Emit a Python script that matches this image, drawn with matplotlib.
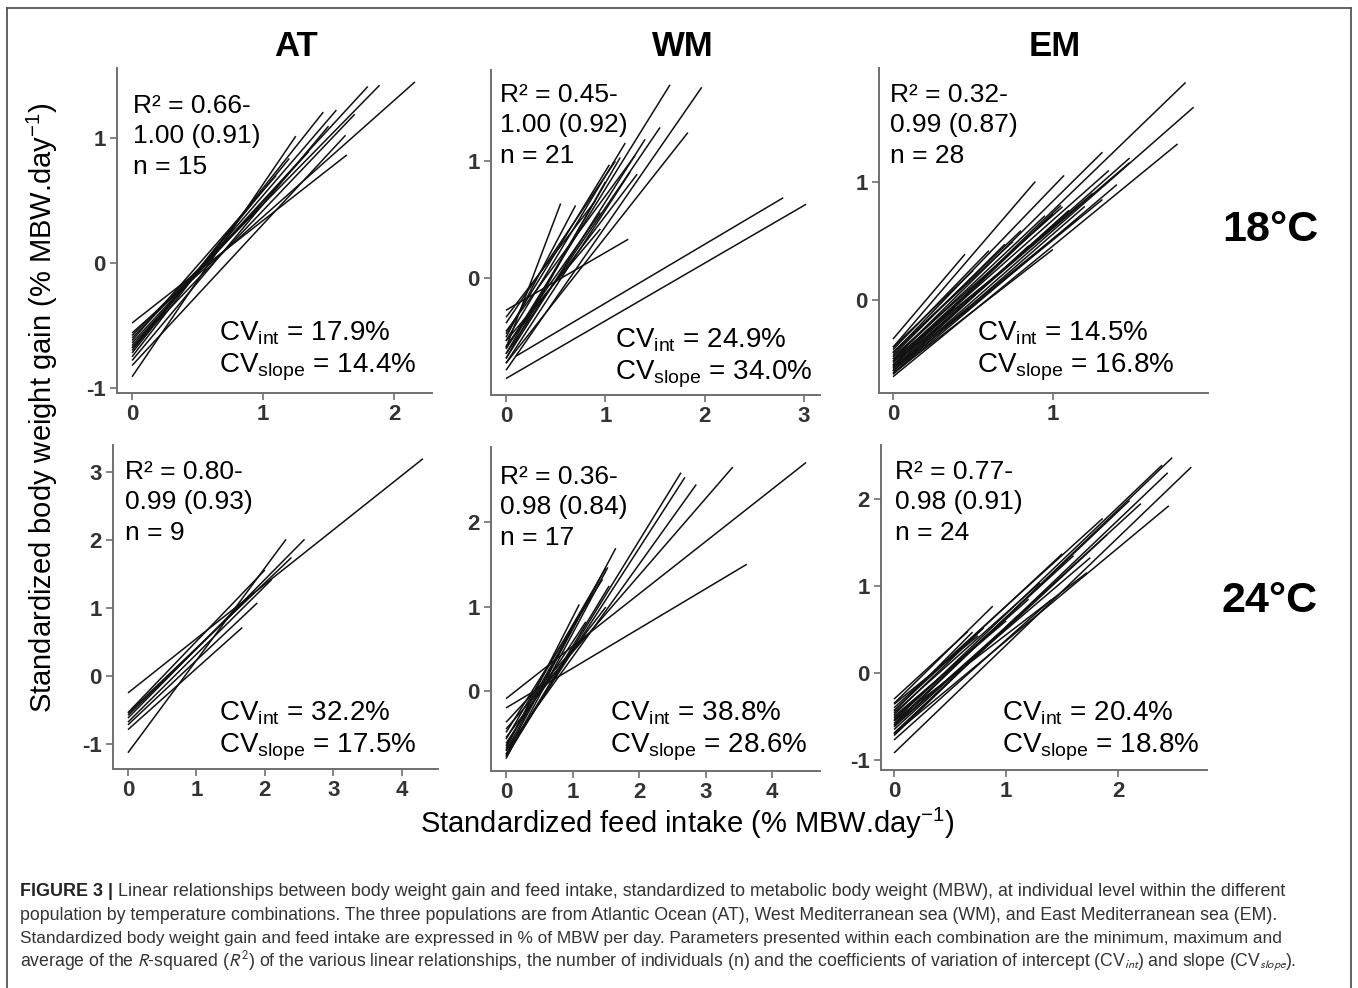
import numpy as np
import matplotlib
matplotlib.use("Agg")
import matplotlib.pyplot as plt
from matplotlib import font_manager as fm
from matplotlib.lines import Line2D

# ---------------- data (individual regression lines) ----------------
# AT 18 C
at18_int = [-0.48, -0.56, -0.60, -0.64, -0.68, -0.72, -0.91, -0.82, -0.62, -0.66, -0.70, -0.58, -0.75, -0.78, -0.68]
at18_slope = [0.82, 0.93, 1.07, 1.14, 1.22, 1.32, 1.54, 1.13, 1.20, 1.15, 1.28, 1.05, 1.35, 1.25, 1.10]
at18_xstart = [0.0] * 15
at18_xend = [1.64, 2.16, 1.89, 1.80, 1.56, 1.46, 1.25, 1.63, 1.10, 1.35, 1.20, 1.00, 0.95, 1.50, 1.70]

# WM 18 C
wm18_int = [-0.85, -0.71, -0.27, -0.60, -0.78, -0.72, -0.64, -0.68, -0.47, -0.58, -0.59,
            -0.50, -0.33, -0.38, -0.53, -0.64, -0.68, -0.72, -0.58, -0.45, -0.53]
wm18_slope = [0.49, 0.50, 0.49, 1.36, 1.22, 1.07, 1.24, 1.33, 1.38, 1.11, 2.23,
              1.60, 1.10, 1.25, 1.40, 1.45, 1.50, 1.30, 1.20, 1.15, 1.00]
wm18_xstart = [0.0, 0.10, 0.0, 0.0, 0.0, 0.0, 0.0, 0.0, 0.0, 0.0, 0.0,
               0.0, 0.0, 0.0, 0.0, 0.0, 0.0, 0.0, 0.0, 0.0, 0.0]
wm18_xend = [3.02, 2.79, 1.23, 1.65, 1.97, 1.83, 1.55, 1.40, 1.04, 1.32, 0.55,
             0.70, 0.90, 1.10, 1.20, 1.15, 1.00, 1.25, 0.95, 1.30, 0.95]

# EM 18 C
em18_int = [-0.55, -0.60, -0.65, -0.50, -0.55, -0.45, -0.40, -0.60, -0.33, -0.48, -0.52, -0.58, -0.62, -0.45,
            -0.50, -0.56, -0.53, -0.47, -0.63, -0.58, -0.42, -0.40, -0.60, -0.52, -0.57, -0.44, -0.62, -0.50]
em18_slope = [1.31, 1.19, 1.11, 1.34, 1.16, 1.41, 1.58, 1.11, 1.60, 1.20, 1.25, 1.22, 1.18, 1.30,
              1.28, 1.30, 1.15, 1.35, 1.15, 1.10, 1.40, 1.30, 1.25, 1.20, 1.20, 1.25, 1.05, 1.10]
em18_xstart = [0.0] * 28
em18_xend = [1.83, 1.88, 1.78, 1.31, 1.48, 1.07, 0.89, 1.31, 0.45, 1.06, 1.00, 1.10, 1.20, 0.80,
             0.95, 1.05, 1.25, 0.70, 1.40, 1.15, 0.60, 0.50, 0.85, 1.35, 1.48, 0.75, 1.00, 0.65]

# AT 24 C
at24_int = [-0.25, -1.13, -0.62, -0.55, -0.68, -0.72, -0.79, -0.58, -0.54]
at24_slope = [0.80, 1.36, 1.02, 0.96, 1.00, 0.95, 0.90, 0.98, 1.05]
at24_xstart = [0.0] * 9
at24_xend = [4.31, 2.31, 2.58, 2.39, 2.10, 1.89, 1.67, 1.85, 2.00]

# WM 24 C
wm24_int = [-0.09, -0.20, -0.45, -0.70, -0.75, -0.78, -0.75, -0.80, -0.55, -0.37, -0.49,
            -0.57, -0.65, -0.71, -0.77, -0.62, -0.68]
wm24_slope = [0.62, 0.47, 0.91, 1.10, 1.22, 1.28, 1.48, 1.48, 1.03, 0.85, 1.25,
              1.35, 1.40, 1.45, 1.30, 1.20, 1.55]
wm24_xstart = [0.0] * 17
wm24_xend = [4.51, 3.62, 3.41, 2.86, 2.69, 2.63, 1.65, 1.53, 1.50, 1.20, 1.45,
             1.50, 1.40, 1.30, 1.55, 1.20, 1.10]

# EM 24 C
em24_int = [-0.92, -0.60, -0.70, -0.55, -0.70, -0.40, -0.55, -0.35, -0.30, -0.43, -0.46, -0.54,
            -0.62, -0.69, -0.77, -0.50, -0.58, -0.65, -0.48, -0.36, -0.60, -0.72, -0.52, -0.44]
em24_slope = [1.24, 1.24, 1.23, 1.23, 1.07, 1.17, 0.99, 1.27, 1.18, 1.20, 1.15, 1.18,
              1.15, 1.20, 1.15, 1.10, 1.22, 1.18, 1.25, 1.05, 1.10, 1.25, 1.14, 1.30]
em24_xstart = [0.0] * 24
em24_xend = [2.65, 2.48, 2.44, 2.39, 2.45, 1.86, 1.72, 0.88, 0.66, 1.50, 1.30, 1.60,
             1.20, 1.90, 1.40, 1.00, 2.10, 2.20, 0.80, 0.75, 1.75, 1.10, 1.20, 0.70]

populations = ["AT", "WM", "EM"]
temperatures = ["18°C", "24°C"]
r2_labels = [["R² = 0.66-\n1.00 (0.91)\nn = 15", "R² = 0.45-\n1.00 (0.92)\nn = 21", "R² = 0.32-\n0.99 (0.87)\nn = 28"],
             ["R² = 0.80-\n0.99 (0.93)\nn = 9", "R² = 0.36-\n0.98 (0.84)\nn = 17", "R² = 0.77-\n0.98 (0.91)\nn = 24"]]
cv_int = [["17.9%", "24.9%", "14.5%"], ["32.2%", "38.8%", "20.4%"]]
cv_slope = [["14.4%", "34.0%", "16.8%"], ["17.5%", "28.6%", "18.8%"]]
xticks = [[[0, 1, 2], [0, 1, 2, 3], [0, 1]], [[0, 1, 2, 3, 4], [0, 1, 2, 3, 4], [0, 1, 2]]]
yticks = [[[-1, 0, 1], [0, 1], [0, 1]], [[-1, 0, 1, 2, 3], [0, 1, 2], [-1, 0, 1, 2]]]

# ---------------- style ----------------
W, H = 1358, 988
plt.rcParams["font.family"] = ["Liberation Sans", "DejaVu Sans"]
plt.rcParams["mathtext.fontset"] = "custom"
plt.rcParams["mathtext.rm"] = "Liberation Sans"
plt.rcParams["mathtext.it"] = "Liberation Sans:italic"
plt.rcParams["mathtext.bf"] = "Liberation Sans:bold"
plt.rcParams["axes.unicode_minus"] = False

names = {f.name for f in fm.fontManager.ttflist}
cap_font = "Liberation Sans Narrow" if "Liberation Sans Narrow" in names else "Liberation Sans"

fig = plt.figure(figsize=(W / 100, H / 100), dpi=100)
fig.patch.set_facecolor("white")


def fx(x):
    return x / W


def fy(y):
    return 1 - y / H


# axes rectangles in pixels: left, right, top, bottom ; limits
layout = [
    [dict(px=(117, 432, 68, 393), xlim=(-0.115, 2.29), ylim=(-1.04, 1.56)),
     dict(px=(491, 820, 70, 395), xlim=(-0.151, 3.16), ylim=(-0.99, 1.77)),
     dict(px=(879, 1208, 68, 393), xlim=(-0.0875, 1.97), ylim=(-0.788, 1.97))],
    [dict(px=(113, 438, 445, 769), xlim=(-0.219, 4.53), ylim=(-1.37, 3.40)),
     dict(px=(491, 820, 447, 771), xlim=(-0.226, 4.72), ylim=(-0.947, 2.89)),
     dict(px=(881, 1207, 445, 770), xlim=(-0.116, 2.79), ylim=(-1.115, 2.62))],
]
series = [
    [(at18_int, at18_slope, at18_xstart, at18_xend),
     (wm18_int, wm18_slope, wm18_xstart, wm18_xend),
     (em18_int, em18_slope, em18_xstart, em18_xend)],
    [(at24_int, at24_slope, at24_xstart, at24_xend),
     (wm24_int, wm24_slope, wm24_xstart, wm24_xend),
     (em24_int, em24_slope, em24_xstart, em24_xend)],
]
# top of first text line / centre of CV_int line (pixels)
r2_pos = [[(133, 94), (500, 83), (890, 83)], [(125, 460), (500, 465), (895, 460)]]
cv_pos = [[(219, 333), (615, 340), (977, 333)], [(219, 713), (610, 713), (1002, 713)]]

axis_col = "#6f6f6f"
for r in range(2):
    for c in range(3):
        L = layout[r][c]
        l, rr, t, b = L["px"]
        ax = fig.add_axes([fx(l), fy(b), (rr - l) / W, (b - t) / H])
        ax.set_facecolor("none")
        ints, slopes, xs, xe = series[r][c]
        for a_, s_, x0, x1 in zip(ints, slopes, xs, xe):
            xx = np.array([x0, x1])
            ax.plot(xx, a_ + s_ * xx, color="#111111", lw=1.1, solid_capstyle="butt")
        ax.set_xlim(*L["xlim"])
        ax.set_ylim(*L["ylim"])
        ax.set_xticks(xticks[r][c])
        ax.set_yticks(yticks[r][c])
        for sp in ["top", "right"]:
            ax.spines[sp].set_visible(False)
        for sp in ["left", "bottom"]:
            ax.spines[sp].set_color(axis_col)
            ax.spines[sp].set_linewidth(1.4)
        ax.tick_params(direction="out", length=5, width=1.2, color=axis_col, labelcolor="#333333",
                       labelsize=16, pad=3)
        for lab in ax.get_xticklabels() + ax.get_yticklabels():
            lab.set_fontweight("bold")
        # annotations
        x0p, y0p = r2_pos[r][c]
        fig.text(fx(x0p), fy(y0p), r2_labels[r][c], ha="left", va="top", fontsize=19,
                 linespacing=1.33)
        xc, yc = cv_pos[r][c]
        fig.text(fx(xc), fy(yc), r"CV$_{\mathrm{int}}$ = " + cv_int[r][c], ha="left", va="center", fontsize=20)
        fig.text(fx(xc), fy(yc + 34), r"CV$_{\mathrm{slope}}$ = " + cv_slope[r][c], ha="left", va="center", fontsize=20)

# column and row titles
for name, xc in zip(populations, [296, 683, 1055]):
    fig.text(fx(xc), fy(46), name, ha="center", va="center", fontsize=25, fontweight="bold")
for name, yc in zip(temperatures, [230, 601]):
    fig.text(fx(1270), fy(yc), name, ha="center", va="center", fontsize=31, fontweight="bold")

fig.text(fx(42), fy(408), r"Standardized body weight gain (% MBW.day$^{\mathrm{-1}}$)", rotation=90,
         ha="center", va="center", fontsize=21)
fig.text(fx(687), fy(823), r"Standardized feed intake (% MBW.day$^{\mathrm{-1}}$)",
         ha="center", va="center", fontsize=21)

# outer frame
frame_col = "#555555"
for xs_, ys_ in [((7, 7), (8, 988)), ((7, 1351), (8, 8)), ((1351, 1351), (8, 988))]:
    fig.add_artist(Line2D([fx(v) for v in xs_], [fy(v) for v in ys_], color=frame_col, lw=1.3,
                          transform=fig.transFigure))

# caption
cap_lines_rest = [
    "Linear relationships between body weight gain and feed intake, standardized to metabolic body weight (MBW), at individual level within the different",
    "population by temperature combinations. The three populations are from Atlantic Ocean (AT), West Mediterranean sea (WM), and East Mediterranean sea (EM).",
    "Standardized body weight gain and feed intake are expressed in % of MBW per day. Parameters presented within each combination are the minimum, maximum and",
    r"average of the $\mathit{R}$-squared ($\mathit{R}^{2}$) of the various linear relationships, the number of individuals (n) and the coefficients of variation of intercept (CV$_{\mathit{int}}$) and slope (CV$_{\mathit{slope}}$).",
]
cap_y = [891, 915, 939, 962]
cap_right = [1292, 1287, 1290, 1303]
cap_x0 = 20
renderer = fig.canvas.get_renderer()


def cap_line(i, size):
    arts = []
    x = cap_x0
    if i == 0:
        b = fig.text(fx(cap_x0), fy(cap_y[0]), "FIGURE 3 |", fontsize=size, fontweight="bold",
                     family=cap_font, color="#222222", va="center", ha="left")
        arts.append(b)
        x = b.get_window_extent(renderer).x1 + size * 0.35
    t = fig.text(fx(x), fy(cap_y[i]), cap_lines_rest[i], fontsize=size, family=cap_font,
                 color="#333333", va="center", ha="left", math_fontfamily="stixsans")
    arts.append(t)
    return arts, t.get_window_extent(renderer).x1


for i in range(4):
    size = 14.0
    arts, right = cap_line(i, size)
    for a in arts:
        a.remove()
    size = size * (cap_right[i] - cap_x0) / (right - cap_x0)
    cap_line(i, size)

fig.savefig("out.png", dpi=100, facecolor="white")
